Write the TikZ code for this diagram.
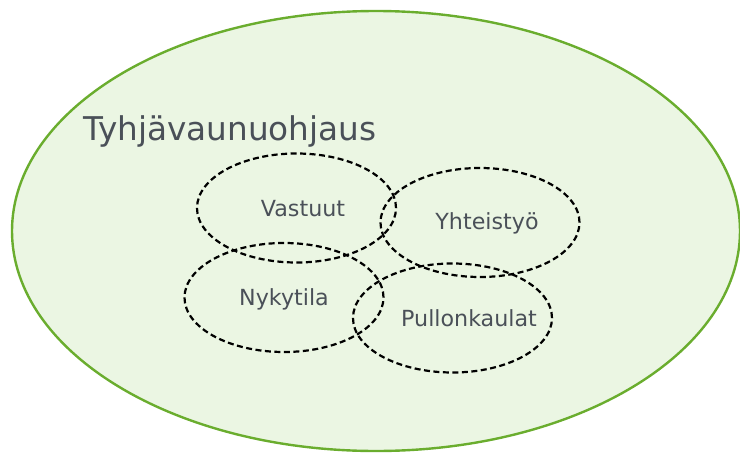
\documentclass[tikz,border=0pt]{standalone}
\usepackage{fontspec}
\setmainfont{DejaVu Sans}
\usetikzlibrary{shapes.geometric}
\definecolor{groupfill}{HTML}{EBF6E3}
\definecolor{groupline}{HTML}{6AAD2E}
\definecolor{labeltext}{HTML}{4A5058}
\tikzset{
  group/.style={ellipse, draw=groupline, fill=groupfill, line width=2.4pt, inner sep=0pt},
  topic/.style={ellipse, draw=black, line width=2.2pt, dash pattern=on 6pt off 3.5pt, inner sep=0pt,
                minimum width=199pt, minimum height=109pt},
  title/.style={text=labeltext, font=\fontsize{32.7}{38}\selectfont, inner sep=0pt},
  topiclabel/.style={text=labeltext, font=\fontsize{22.2}{26}\selectfont, inner sep=0pt}
}
\begin{document}
\begin{tikzpicture}[x=1pt, y=-1pt]
  \useasboundingbox (0,0) rectangle (740,453);
  % outer group
  \node[group, minimum width=728pt, minimum height=440pt] (outer) at (376,231) {};
  \node[title, anchor=base west] (heading) at (83,140) {Tyhjävaunuohjaus};
  % overlapping topic areas
  \node[topic] (vastuut) at (296.5,208) {};
  \node[topic] (yhteistyo) at (480,222.5) {};
  \node[topic] (nykytila) at (284,297.5) {};
  \node[topic] (pullonkaulat) at (452.5,318) {};
  % topic names
  \node[topiclabel, anchor=base] (lvastuut) at (303,216) {Vastuut};
  \node[topiclabel, anchor=base] (lyhteistyo) at (487,229.5) {Yhteistyö};
  \node[topiclabel, anchor=base] (lnykytila) at (284,305.5) {Nykytila};
  \node[topiclabel, anchor=base] (lpullonkaulat) at (469,326) {Pullonkaulat};
\end{tikzpicture}
\end{document}
